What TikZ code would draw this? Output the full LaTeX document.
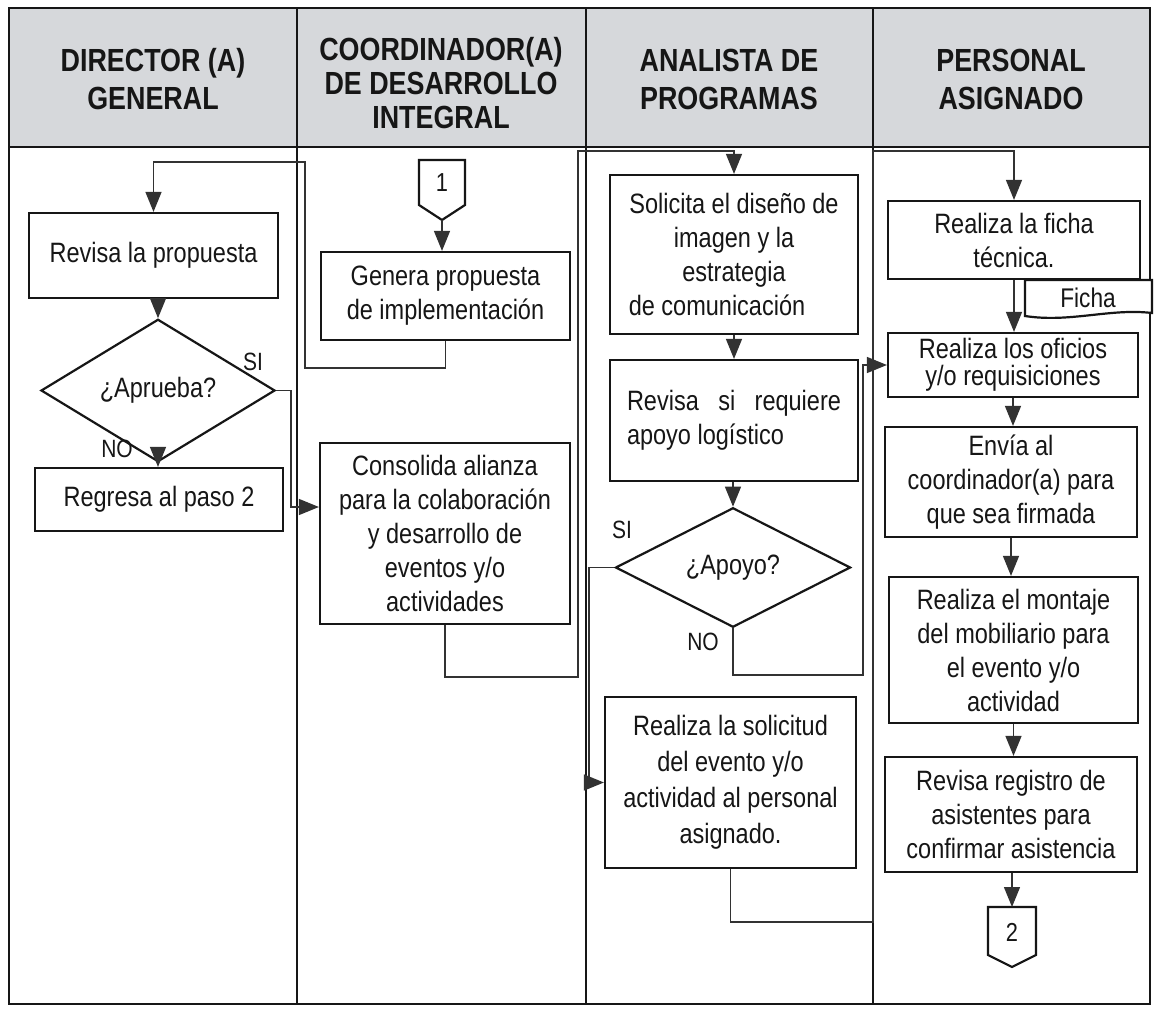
\documentclass[tikz,border=0pt]{standalone}
\usepackage{fontspec}
\setmainfont{Liberation Sans}[FakeStretch=0.84]
\usepackage{xcolor}
\usetikzlibrary{arrows.meta, shapes.geometric}

\definecolor{hdrgray}{RGB}{214,216,219}
\definecolor{ink}{RGB}{22,22,22}
\definecolor{wire}{RGB}{50,50,50}
\newcommand{\bodysize}{\fontsize{14}{17}\selectfont}
\newcommand{\headsize}{\fontsize{16}{19}\selectfont\bfseries}
\newcommand{\tagsize}{\fontsize{12.5}{14}\selectfont}

\begin{document}
\begin{tikzpicture}[x=0.5pt, y=-0.5pt,
  proc/.style={draw=ink, line width=1.1pt, fill=white, align=center, inner sep=2pt, font=\bodysize, text=ink},
  decision/.style={diamond, aspect=1, draw=ink, line width=1.1pt, fill=white, inner sep=0pt, font=\bodysize, text=ink},
  flow/.style={draw=wire, line width=0.7pt, -{Triangle[length=10pt,width=8pt]}},
  lanehead/.style={align=center, font=\headsize, text=ink},
  tag/.style={font=\tagsize, text=ink}]
  \useasboundingbox (0,0) rectangle (1158,1012);
  \fill[white] (0,0) rectangle (1158,1012);
  % swimlanes
  \fill[hdrgray] (9,8) rectangle (1150,147);
  \draw[ink, line width=0.9pt] (9,8) rectangle (1150,1004);
  \draw[ink, line width=1.4pt] (9,147) -- (1150,147);
  \foreach \x in {297,586,873}
    \draw[ink, line width=0.85pt] (\x,8) -- (\x,1004);
  \node[lanehead] (hdir) at (153,79) {DIRECTOR (A)\\GENERAL};
  \node[lanehead, font=\headsize\fontsize{16}{17}\selectfont] (hcoord) at (441,83) {COORDINADOR(A)\\DE DESARROLLO\\INTEGRAL};
  \node[lanehead] (hanal) at (729,79) {ANALISTA DE\\PROGRAMAS};
  \node[lanehead] (hpers) at (1011,79) {PERSONAL\\ASIGNADO};

  % director
  \node[proc, minimum width=124.5pt, minimum height=42.5pt] (revisa) at (153.5,255.5) {Revisa la propuesta};
  \node[decision, minimum width=117pt, minimum height=52.5pt] (aprueba) at (158,390.5) {¿Aprueba?};
  \node[proc, minimum width=124pt, minimum height=31.5pt] (regresa) at (159,499.5) {Regresa al paso 2};
  \node[tag] (siA) at (253,362) {SI};
  \node[tag] (noA) at (117,449) {NO};

  % coordinador
  \draw[ink, line width=1.1pt, fill=white] (419,160) -- (465,160) -- (465,205) -- (442,220) -- (419,205) -- cycle;
  \node[tag, font=\fontsize{13}{14}\selectfont] (c1) at (442,183) {1};
  \coordinate (c1tip) at (442,220);
  \node[proc, minimum width=124.5pt, minimum height=44pt] (genera) at (445.5,296) {Genera propuesta\\de implementación};
  \node[proc, minimum width=125pt, minimum height=90.5pt] (consolida) at (445,533.5) {Consolida alianza\\para la colaboración\\y desarrollo de\\eventos y/o\\actividades};

  % analista
  \node[proc, minimum width=124pt, minimum height=79.5pt] (solicita) at (734,254.5) {Solicita el diseño de\\imagen y la\\estrategia\\de comunicación\hspace*{17pt}};
  \node[proc, align=left, minimum width=124pt, minimum height=60.5pt] (revisasi) at (734,420.5) {\makebox[107pt][s]{Revisa si requiere}\\apoyo logístico};
  \node[decision, minimum width=117.5pt, minimum height=52.5pt] (apoyo) at (733,567.5) {¿Apoyo?};
  \node[tag] (siB) at (622,530) {SI};
  \node[tag] (noB) at (703,642) {NO};
  \node[proc, font=\fontsize{14}{18}\selectfont, minimum width=125.5pt, minimum height=85.5pt] (solicitud) at (730.5,782.5) {Realiza la solicitud\\del evento y/o\\actividad al personal\\asignado.};

  % personal
  \node[proc, minimum width=126pt, minimum height=39pt] (ficha) at (1014,240) {Realiza la ficha\\técnica.};
  \draw[ink, line width=1.1pt, fill=white] (1025,280) -- (1152,280) -- (1152,313) .. controls (1110,308) and (1070,323) .. (1025,316) -- cycle;
  \node[tag, font=\fontsize{13.5}{14}\selectfont] (fichadoc) at (1088,298) {Ficha};
  \node[proc, font=\fontsize{14}{13.5}\selectfont, inner sep=1pt, minimum width=125pt, minimum height=32pt] (oficios) at (1013,365) {Realiza los oficios\\y/o requisiciones};
  \node[proc, minimum width=126pt, minimum height=55pt] (envia) at (1011,482) {Envía al\\coordinador(a) para\\que sea firmada};
  \node[proc, minimum width=124.5pt, minimum height=73pt] (montaje) at (1013.5,650) {Realiza el montaje\\del mobiliario para\\el evento y/o\\actividad};
  \node[proc, minimum width=126pt, minimum height=57.5pt] (registro) at (1011,814.5) {Revisa registro de\\asistentes para\\confirmar asistencia};
  \draw[ink, line width=1.1pt, fill=white] (988,907) -- (1036,907) -- (1036,955) -- (1012,967) -- (988,955) -- cycle;
  \node[tag, font=\fontsize{13}{14}\selectfont] (c2) at (1012,932) {2};
  \coordinate (c2top) at (1012,907);

  % flujo
  \draw[flow] (genera.south) |- (305,368) |- (revisa.north |- 0,162) -- (revisa.north);
  \draw[flow] (revisa.south -| aprueba.north) -- (aprueba.north);
  \draw[flow] (aprueba.south) -- (aprueba.south |- regresa.north);
  \draw[flow] (aprueba.east) -| (291,450) |- (consolida.west |- 0,507);
  \draw[flow] (c1tip) -- (c1tip |- genera.north);
  \draw[flow] (consolida.south) |- (578,677) |- (solicita.north |- 0,151) -- (solicita.north);
  \draw[flow] (solicita.south) -- (revisasi.north);
  \draw[flow] (revisasi.south -| apoyo.north) -- (apoyo.north);
  \draw[flow] (apoyo.west) -| (589,700) |- (solicitud.west);
  \draw[flow] (apoyo.south) |- (863,675) |- (oficios.west);
  \draw[flow] (solicitud.south) |- (873,922) |- (ficha.north |- 0,151) -- (ficha.north);
  \draw[flow] (ficha.south) -- (ficha.south |- oficios.north);
  \draw[flow] (oficios.south) -- (oficios.south |- envia.north);
  \draw[flow] (envia.south) -- (envia.south |- montaje.north);
  \draw[flow] (montaje.south) -- (montaje.south |- registro.north);
  \draw[flow] (registro.south -| c2top) -- (c2top);
\end{tikzpicture}
\end{document}
